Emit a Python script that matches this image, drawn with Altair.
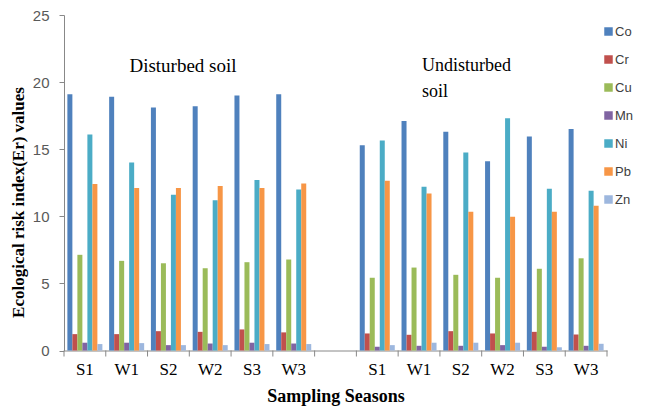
import altair as alt
import pandas as pd

metals = ["Co", "Cr", "Cu", "Mn", "Ni", "Pb", "Zn"]
seasons = ["S1", "W1", "S2", "W2", "S3", "W3"]
colors = ["#4F81BD", "#C0504D", "#9BBB59", "#8064A2", "#4BACC6", "#F79646", "#9DB7DE"]

# Disturbed soil values (per metal, over seasons S1..W3)
dist_Co = [19.1, 18.9, 18.1, 18.2, 19.0, 19.1]
dist_Cr = [1.22, 1.22, 1.44, 1.39, 1.57, 1.35]
dist_Cu = [7.13, 6.68, 6.50, 6.13, 6.58, 6.78]
dist_Mn = [0.58, 0.58, 0.40, 0.52, 0.58, 0.52]
dist_Ni = [16.1, 14.0, 11.6, 11.2, 12.7, 12.0]
dist_Pb = [12.4, 12.1, 12.1, 12.25, 12.1, 12.45]
dist_Zn = [0.48, 0.55, 0.40, 0.40, 0.48, 0.48]

# Undisturbed soil values
und_Co = [15.3, 17.1, 16.3, 14.1, 15.95, 16.5]
und_Cr = [1.27, 1.17, 1.44, 1.27, 1.39, 1.20]
und_Cu = [5.42, 6.18, 5.64, 5.42, 6.09, 6.87]
und_Mn = [0.28, 0.35, 0.35, 0.40, 0.28, 0.35]
und_Ni = [15.65, 12.2, 14.75, 17.3, 12.06, 11.9]
und_Pb = [12.65, 11.7, 10.33, 9.96, 10.33, 10.78]
und_Zn = [0.40, 0.58, 0.58, 0.58, 0.24, 0.50]

dist = [dist_Co, dist_Cr, dist_Cu, dist_Mn, dist_Ni, dist_Pb, dist_Zn]
und = [und_Co, und_Cr, und_Cu, und_Mn, und_Ni, und_Pb, und_Zn]

rows = []
for m, dv, uv in zip(metals, dist, und):
    for s, a, b in zip(seasons, dv, uv):
        rows.append({"site": "d" + s, "metal": m, "value": a})
        rows.append({"site": "u" + s, "metal": m, "value": b})
df = pd.DataFrame(rows)

domain = ["d" + s for s in seasons] + ["gap"] + ["u" + s for s in seasons]
ticks_df = pd.DataFrame({"site": domain})
last_df = pd.DataFrame({"site": [domain[-1]]})

serif = "Liberation Serif"
sans = "Liberation Sans"
gray = "#888888"
xtitle = "Sampling Seasons"
xscale = alt.Scale(domain=domain, paddingInner=0, paddingOuter=0)
H = 335.5

bars = alt.Chart(df).mark_bar().encode(
    x=alt.X(
        "site:N",
        scale=xscale,
        title=xtitle,
        axis=alt.Axis(
            titleFont=serif, titleFontSize=18, titleFontWeight="bold", titleColor="black",
            titlePadding=10,
            labelExpr="datum.value == 'gap' ? '' : slice(datum.value, 1)",
            labelFont=serif, labelFontSize=17, labelColor="black", labelPadding=11,
            labelAngle=0, ticks=False, domainColor=gray, grid=False,
        ),
    ),
    xOffset=alt.XOffset("metal:N", sort=metals,
                        scale=alt.Scale(paddingInner=0, paddingOuter=0.675)),
    y=alt.Y(
        "value:Q",
        scale=alt.Scale(domain=[0, 25], nice=False),
        title="Ecological risk index(Er) values",
        axis=alt.Axis(
            titleFont=serif, titleFontSize=17, titleFontWeight="bold", titleColor="black",
            titleX=-37, titleY=187,
            values=[0, 5, 10, 15, 20, 25],
            labelFont=sans, labelFontSize=15, labelColor="#595959", labelPadding=10,
            tickSize=5, tickColor=gray, domainColor=gray, grid=False,
        ),
    ),
    color=alt.Color(
        "metal:N",
        sort=metals,
        scale=alt.Scale(domain=metals, range=colors),
        legend=alt.Legend(
            title="",
            orient="none", legendX=538, legendY=10,
            symbolType="square", symbolSize=72, symbolStrokeWidth=0,
            labelFont=sans, labelFontSize=13, labelColor="#404040",
            rowPadding=14, labelOffset=0,
        ),
    ),
)

xticks = alt.Chart(ticks_df).mark_rule(color=gray, strokeWidth=1).encode(
    x=alt.X("site:N", bandPosition=0, scale=xscale, title=xtitle),
    y=alt.value(H), y2=alt.value(H + 6),
)
xtick_end = alt.Chart(last_df).mark_rule(color=gray, strokeWidth=1).encode(
    x=alt.X("site:N", bandPosition=1, scale=xscale, title=xtitle),
    y=alt.value(H), y2=alt.value(H + 6),
)

ann = pd.DataFrame({"label": ["Disturbed soil"]})
ann2 = pd.DataFrame({"label": ["Undisturbed\nsoil"]})

t1 = alt.Chart(ann).mark_text(
    font=serif, fontSize=19, align="center", baseline="middle", color="black"
).encode(x=alt.value(119), y=alt.value(51), text="label:N")
t2 = alt.Chart(ann2).mark_text(
    font=serif, fontSize=18, align="left", baseline="middle", color="black",
    lineBreak="\n", lineHeight=26,
).encode(x=alt.value(358), y=alt.value(51), text="label:N")

chart = alt.layer(bars, xticks, xtick_end, t1, t2).properties(
    width=543, height=H,
    autosize=alt.AutoSizeParams(type="none"),
    padding={"left": 56, "top": 7, "right": 35, "bottom": 60},
).configure_view(stroke=None)

chart.save("out.html", embed_options={"renderer": "svg", "actions": False})
